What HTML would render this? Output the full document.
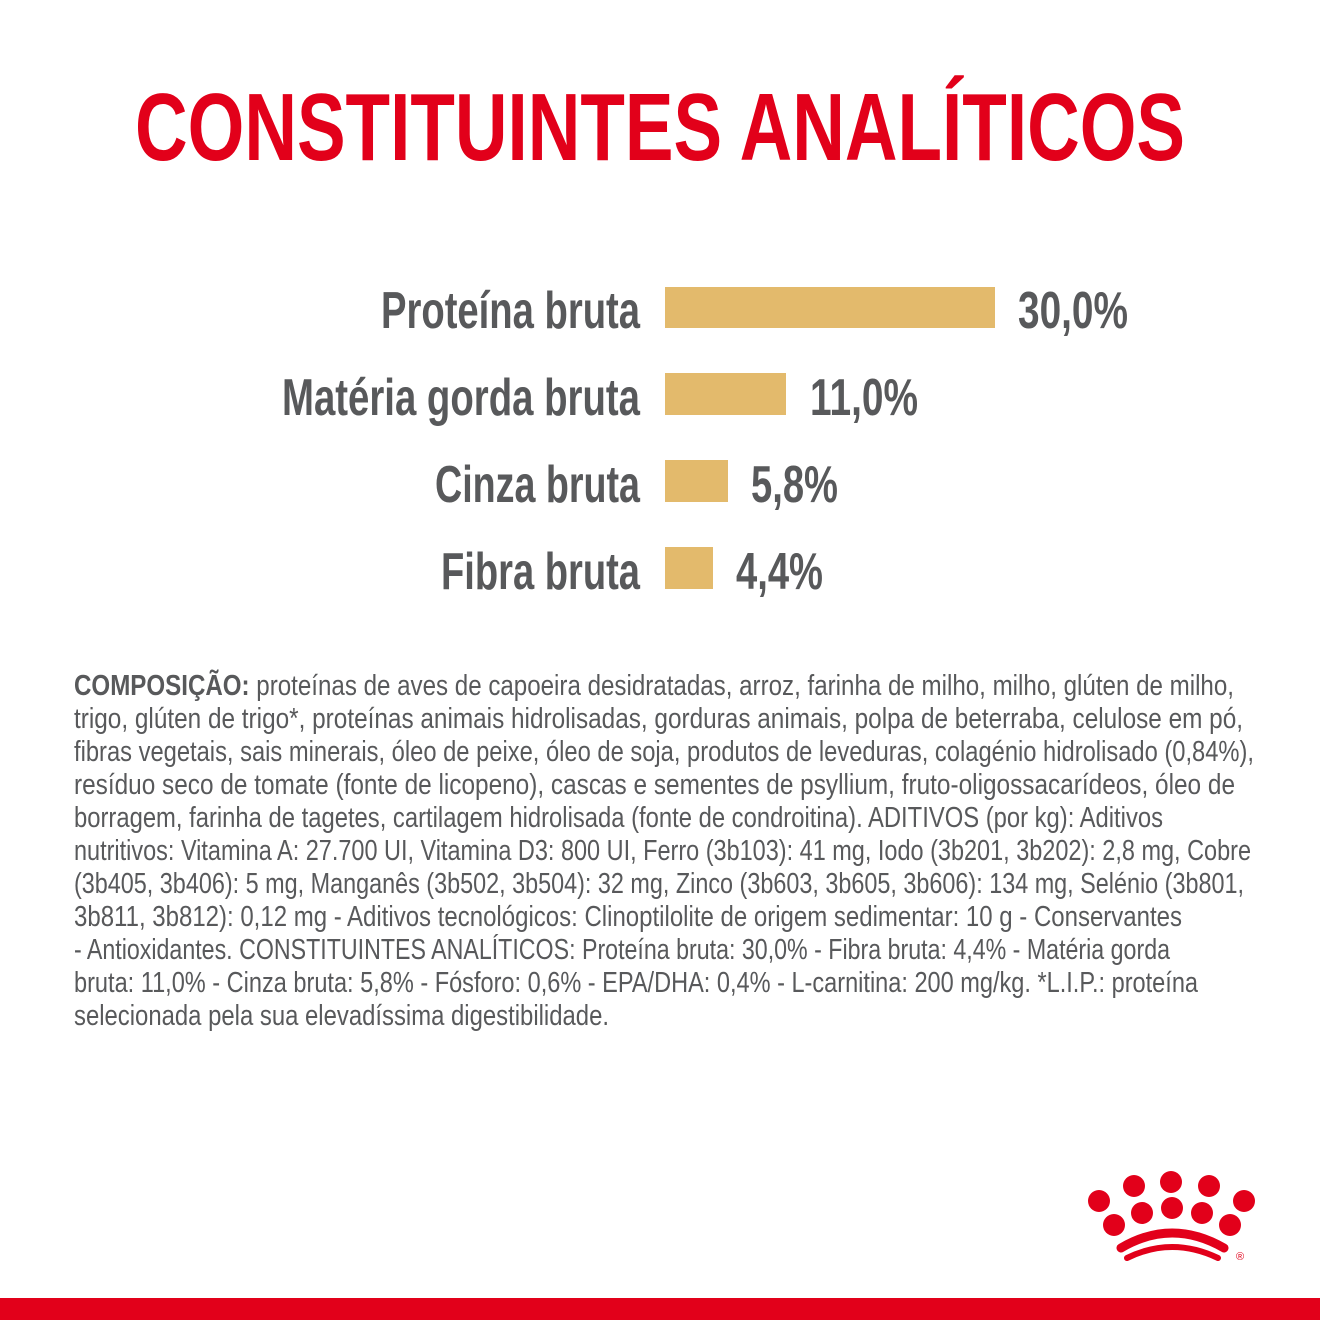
<!DOCTYPE html>
<html><head><meta charset="utf-8"><style>
html,body{margin:0;padding:0;background:#fff;width:1320px;height:1320px;overflow:hidden}
svg{display:block}
text{font-family:"Liberation Sans Narrow","Liberation Sans",sans-serif}
</style></head><body>
<svg width="1320" height="1320" viewBox="0 0 1320 1320" xmlns="http://www.w3.org/2000/svg">
<rect width="1320" height="1320" fill="#fff"/>
<text x="135" y="160" font-size="96" font-weight="bold" fill="#e2001a" textLength="1050" lengthAdjust="spacingAndGlyphs">CONSTITUINTES ANALÍTICOS</text>

<g font-size="52" font-weight="bold" fill="#58595b">
<text x="381" y="328" textLength="259" lengthAdjust="spacingAndGlyphs">Proteína bruta</text>
<text x="282" y="415" textLength="358" lengthAdjust="spacingAndGlyphs">Matéria gorda bruta</text>
<text x="435" y="502" textLength="205" lengthAdjust="spacingAndGlyphs">Cinza bruta</text>
<text x="441" y="589" textLength="199" lengthAdjust="spacingAndGlyphs">Fibra bruta</text>
</g>
<g fill="#e3ba6c">
<rect x="665" y="287" width="330" height="41"/>
<rect x="665" y="373" width="121" height="42"/>
<rect x="665" y="460" width="63" height="42"/>
<rect x="665" y="547" width="48" height="42"/>
</g>
<g font-size="52" font-weight="bold" fill="#58595b">
<text x="1018" y="328" textLength="110" lengthAdjust="spacingAndGlyphs">30,0%</text>
<text x="810" y="415" textLength="108" lengthAdjust="spacingAndGlyphs">11,0%</text>
<text x="751" y="502" textLength="87" lengthAdjust="spacingAndGlyphs">5,8%</text>
<text x="736" y="589" textLength="87" lengthAdjust="spacingAndGlyphs">4,4%</text>
</g>

<g font-size="29" fill="#58595b">
<text x="74" y="695" textLength="1160" lengthAdjust="spacingAndGlyphs"><tspan font-weight="bold">COMPOSIÇÃO:</tspan> proteínas de aves de capoeira desidratadas, arroz, farinha de milho, milho, glúten de milho,</text>
<text x="74" y="728" textLength="1169" lengthAdjust="spacingAndGlyphs">trigo, glúten de trigo*, proteínas animais hidrolisadas, gorduras animais, polpa de beterraba, celulose em pó,</text>
<text x="74" y="761" textLength="1180" lengthAdjust="spacingAndGlyphs">fibras vegetais, sais minerais, óleo de peixe, óleo de soja, produtos de leveduras, colagénio hidrolisado (0,84%),</text>
<text x="74" y="794" textLength="1161" lengthAdjust="spacingAndGlyphs">resíduo seco de tomate (fonte de licopeno), cascas e sementes de psyllium, fruto-oligossacarídeos, óleo de</text>
<text x="74" y="827" textLength="1089" lengthAdjust="spacingAndGlyphs">borragem, farinha de tagetes, cartilagem hidrolisada (fonte de condroitina). ADITIVOS (por kg): Aditivos</text>
<text x="74" y="860" textLength="1177" lengthAdjust="spacingAndGlyphs">nutritivos: Vitamina A: 27.700 UI, Vitamina D3: 800 UI, Ferro (3b103): 41 mg, Iodo (3b201, 3b202): 2,8 mg, Cobre</text>
<text x="74" y="893" textLength="1170" lengthAdjust="spacingAndGlyphs">(3b405, 3b406): 5 mg, Manganês (3b502, 3b504): 32 mg, Zinco (3b603, 3b605, 3b606): 134 mg, Selénio (3b801,</text>
<text x="74" y="926" textLength="1108" lengthAdjust="spacingAndGlyphs">3b811, 3b812): 0,12 mg - Aditivos tecnológicos: Clinoptilolite de origem sedimentar: 10 g - Conservantes</text>
<text x="74" y="959" textLength="1096" lengthAdjust="spacingAndGlyphs">- Antioxidantes. CONSTITUINTES ANALÍTICOS: Proteína bruta: 30,0% - Fibra bruta: 4,4% - Matéria gorda</text>
<text x="74" y="992" textLength="1124" lengthAdjust="spacingAndGlyphs">bruta: 11,0% - Cinza bruta: 5,8% - Fósforo: 0,6% - EPA/DHA: 0,4% - L-carnitina: 200 mg/kg. *L.I.P.: proteína</text>
<text x="74" y="1025" textLength="535" lengthAdjust="spacingAndGlyphs">selecionada pela sua elevadíssima digestibilidade.</text>
</g>

<g fill="#e2001a">
<circle cx="1099" cy="1201" r="11"/>
<circle cx="1134" cy="1186" r="11"/>
<circle cx="1171" cy="1182" r="11"/>
<circle cx="1209" cy="1186" r="11"/>
<circle cx="1244" cy="1201" r="11"/>
<circle cx="1114" cy="1225" r="11"/>
<circle cx="1142" cy="1213" r="11"/>
<circle cx="1172" cy="1208" r="11"/>
<circle cx="1202" cy="1213" r="11"/>
<circle cx="1230" cy="1225" r="11"/>
</g>
<g fill="none" stroke="#e2001a" stroke-linecap="round">
<path d="M1121 1248 Q1172 1218 1224 1248" stroke-width="9"/>
<path d="M1127 1258 Q1172 1236 1218 1258" stroke-width="6"/>
</g>
<text x="1236" y="1260" font-size="11" fill="#e2001a" font-family="Liberation Sans,sans-serif">®</text>
<rect x="0" y="1298" width="1320" height="22" fill="#e2001a"/>
</svg>
</body></html>
